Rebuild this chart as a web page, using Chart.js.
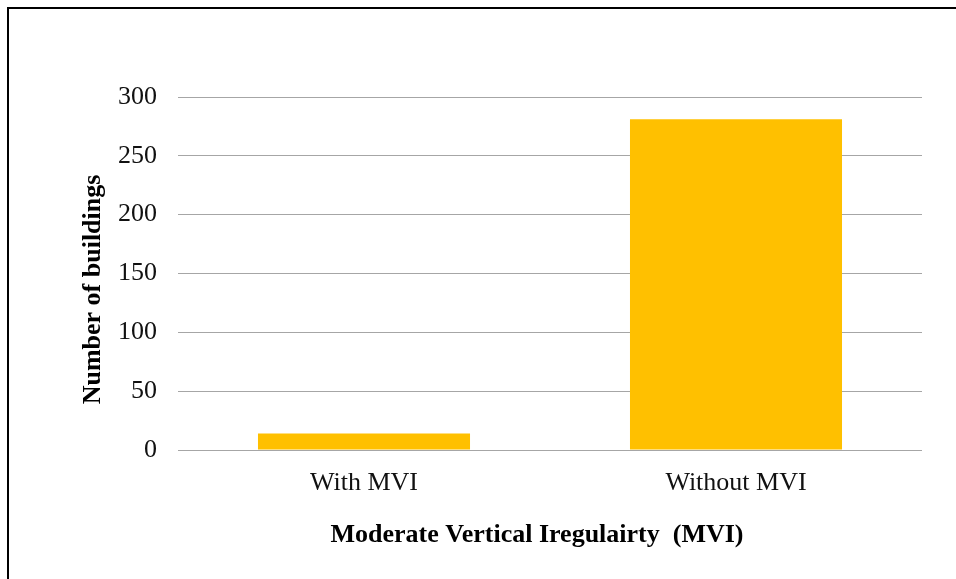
<!DOCTYPE html>
<html>
<head>
<meta charset="utf-8">
<title>Moderate Vertical Irregularity</title>
<script src="https://cdn.jsdelivr.net/npm/chart.js@4/dist/chart.umd.min.js"></script>
<style>
  html, body { margin: 0; padding: 0; background: #ffffff; }
  #wrap { position: relative; width: 956px; height: 579px; overflow: hidden; }
  #frame { position: absolute; left: 7px; top: 7px; right: -10px; bottom: -10px;
           border-top: 2px solid #000; border-left: 2px solid #000; pointer-events: none; }
  canvas { position: absolute; left: 0; top: 0; }
</style>
</head>
<body>
<div id="wrap">
  <canvas id="chart" width="956" height="579"></canvas>
  <div id="frame"></div>
</div>
<script>
// Building counts by presence of moderate vertical irregularity
const categories = ['With MVI', 'Without MVI'];
const buildingCounts = [14, 281];
const yTicks = [0, 50, 100, 150, 200, 250, 300];
const xTitle = 'Moderate Vertical Iregulairty  (MVI)';
const yTitle = 'Number of buildings';

const serif = "'Liberation Serif', 'Times New Roman', serif";

// Axis titles, drawn in the space reserved by each axis and nudged off-centre
const axisTitles = {
  id: 'axisTitles',
  afterDraw(chart) {
    const { ctx, chartArea, scales } = chart;
    const half = 26 * 1.2 / 2 + 4;
    ctx.save();
    ctx.fillStyle = '#000';
    ctx.font = "bold 26px " + serif;
    ctx.textAlign = 'center';
    ctx.textBaseline = 'middle';
    ctx.fillText(xTitle, (chartArea.left + chartArea.right) / 2 - 13, scales.x.bottom - half);
    ctx.translate(scales.y.left + half - 1, (chartArea.top + chartArea.bottom) / 2 + 16);
    ctx.rotate(-Math.PI / 2);
    ctx.fillText(yTitle, 0, 0);
    ctx.restore();
  }
};

new Chart(document.getElementById('chart'), {
  type: 'bar',
  data: {
    labels: categories,
    datasets: [{
      label: yTitle,
      data: buildingCounts,
      backgroundColor: '#FFC000',
      borderWidth: 0,
      categoryPercentage: 1.0,
      barPercentage: 0.57
    }]
  },
  plugins: [axisTitles],
  options: {
    responsive: false,
    animation: false,
    layout: { padding: { top: 97, right: 34, bottom: 24, left: 75 } },
    plugins: {
      legend: { display: false },
      tooltip: { enabled: false }
    },
    scales: {
      x: {
        afterFit: (axis) => { axis.height = 105; },
        grid: { display: false, drawTicks: false },
        border: { display: false },
        ticks: { color: '#111', padding: 18, font: { family: serif, size: 26 } }
      },
      y: {
        min: 0,
        max: 300,
        afterBuildTicks: (axis) => { axis.ticks = yTicks.map(v => ({ value: v })); },
        afterFit: (axis) => { axis.width = 103; },
        grid: { color: '#a6a6a6', lineWidth: 1, drawTicks: false },
        border: { display: false },
        ticks: { color: '#111', padding: 21, font: { family: serif, size: 26 } }
      }
    }
  }
});
</script>
</body>
</html>
